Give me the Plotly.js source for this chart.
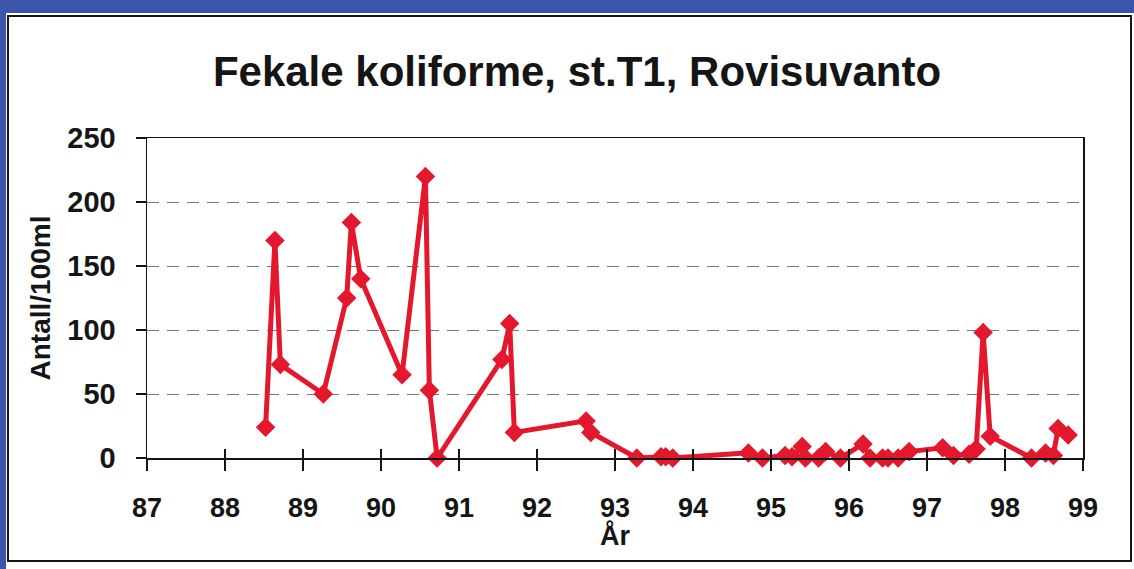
<!DOCTYPE html>
<html>
<head>
<meta charset="utf-8">
<script src="https://cdn.plot.ly/plotly-3.0.1.min.js"></script>
<style>
  html, body { margin:0; padding:0; width:1134px; height:569px; overflow:hidden; background:#ffffff; }
  #bandTop { position:absolute; left:0; top:0; width:1134px; height:13px; background:#3b55ad; }
  #bandLeft { position:absolute; left:0; top:0; width:6px; height:569px; background:#3b55ad; }
  #frame { position:absolute; left:7px; top:15px; width:1121px; height:543px; border:2px solid #151515; background:#ffffff; }
  #chart { position:absolute; left:0; top:0; width:1134px; height:569px; }
</style>
</head>
<body>
<div id="bandTop"></div>
<div id="bandLeft"></div>
<div id="frame"></div>
<div id="chart"></div>
<script>
// Year (decimal, two-digit year) of each sample
const years = [88.52, 88.64, 88.71, 89.26, 89.56, 89.62, 89.74, 90.27, 90.57, 90.62,
               90.72, 91.55, 91.65, 91.71, 92.63, 92.69, 93.28, 93.59, 93.65, 93.74,
               94.71, 94.89, 95.18, 95.27, 95.40, 95.44, 95.61, 95.70, 95.89, 96.18,
               96.27, 96.43, 96.50, 96.63, 96.77, 97.20, 97.34, 97.54, 97.63, 97.72,
               97.81, 98.34, 98.52, 98.62, 98.68, 98.81];
// Antall/100ml
const counts = [24, 170, 73, 50, 125, 184, 140, 65, 220, 53,
                0, 77, 105, 20, 29, 20, 0, 1, 1, 0,
                4, 0, 2, 1, 9, 0, 0, 5, 0, 11,
                0, 0, 0, 0, 5, 8, 2, 3, 7, 98,
                17, 0, 4, 2, 23, 18];
const xTicks = [87, 88, 89, 90, 91, 92, 93, 94, 95, 96, 97, 98, 99];
const yTicks = [0, 50, 100, 150, 200, 250];
const titleText = "Fekale koliforme, st.T1, Rovisuvanto";
const xTitle = "År";
const yTitle = "Antall/100ml";

const FONT = "Liberation Sans, Arial, Helvetica, sans-serif";
const RED = "#e3182d";

const trace = {
  x: years, y: counts, type: "scatter", mode: "lines+markers",
  line: { color: RED, width: 5 },
  marker: { symbol: "diamond", size: 15, color: RED },
  cliponaxis: false, hoverinfo: "x+y"
};

const layout = {
  width: 1134, height: 569,
  paper_bgcolor: "rgba(0,0,0,0)", plot_bgcolor: "rgba(0,0,0,0)",
  margin: { l: 147, r: 51, t: 138, b: 111 },
  showlegend: false,
  title: {
    text: "<b>" + titleText + "</b>",
    font: { family: FONT, size: 42, color: "#151515" },
    x: 577 / 1134, xref: "container", xanchor: "center",
    y: 1 - 71 / 569, yref: "container", yanchor: "middle"
  },
  xaxis: {
    range: [87, 99], tickvals: xTicks, ticktext: xTicks.map(String),
    ticks: "outside", ticklen: 11, tickwidth: 1.5, tickcolor: "#151515",
    ticklabelstandoff: 14,
    showline: true, linecolor: "#151515", linewidth: 1.5, mirror: true,
    showgrid: false, zeroline: false,
    tickfont: { family: FONT, size: 27, color: "#151515", weight: "bold" },
    title: { text: "<b>" + xTitle + "</b>", font: { family: FONT, size: 27, color: "#151515" }, standoff: 0 }
  },
  xaxis2: {
    range: [87, 99], overlaying: "x", anchor: "y", side: "bottom",
    tickvals: xTicks, ticks: "inside", ticklen: 9, tickwidth: 1.5, tickcolor: "#151515",
    showticklabels: false, showline: false, showgrid: false, zeroline: false
  },
  yaxis: {
    range: [0, 250], tickvals: yTicks, ticktext: yTicks.map(String),
    ticks: "outside", ticklen: 10, tickwidth: 1.5, tickcolor: "#151515",
    ticklabelstandoff: 14,
    showline: true, linecolor: "#151515", linewidth: 1.5, mirror: true,
    showgrid: true, gridcolor: "#777777", gridwidth: 1, griddash: "12px,8px",
    zeroline: false,
    tickfont: { family: FONT, size: 29, color: "#151515", weight: "bold" },
    title: { text: "<b>" + yTitle + "</b>", font: { family: FONT, size: 28, color: "#151515" }, standoff: 8 }
  }
};

const helper = { x: [], y: [], xaxis: "x2", yaxis: "y", type: "scatter", mode: "lines", hoverinfo: "skip", showlegend: false };

Plotly.newPlot("chart", [trace, helper], layout, { displayModeBar: false, staticPlot: true }).then(function () {
  // Pull the x-axis title up to sit directly beneath the tick labels.
  const t = document.querySelector(".g-xtitle text");
  if (t) { t.setAttribute("transform", "translate(0,-3)"); }
});
</script>
</body>
</html>
